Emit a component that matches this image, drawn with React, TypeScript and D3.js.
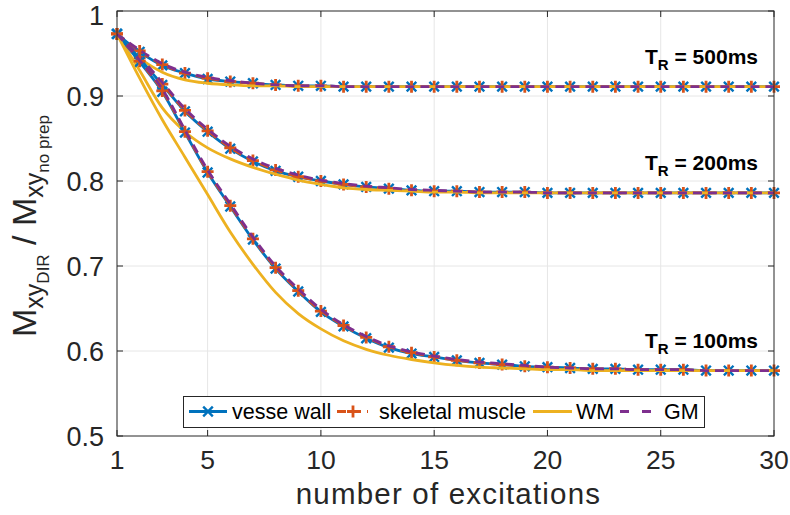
import React from "react";
import * as d3 from "d3";

// number of excitations 1..30
const excitations = d3.range(1, 31);

// ---- TR = 500 ms ----
const vessel500 = [0.973, 0.952, 0.936, 0.927, 0.920, 0.917, 0.915, 0.913, 0.912, 0.912, 0.911, 0.911, 0.911, 0.911, 0.911, 0.911, 0.911, 0.911, 0.911, 0.911, 0.911, 0.911, 0.911, 0.911, 0.911, 0.911, 0.911, 0.911, 0.911, 0.911];
const muscle500 = [0.973, 0.953, 0.937, 0.927, 0.921, 0.917, 0.915, 0.913, 0.912, 0.912, 0.911, 0.911, 0.911, 0.911, 0.911, 0.911, 0.911, 0.911, 0.911, 0.911, 0.911, 0.911, 0.911, 0.911, 0.911, 0.911, 0.911, 0.911, 0.911, 0.911];
const wm500 = [0.973, 0.945, 0.928, 0.919, 0.915, 0.913, 0.912, 0.912, 0.911, 0.911, 0.911, 0.911, 0.911, 0.911, 0.911, 0.911, 0.911, 0.911, 0.911, 0.911, 0.911, 0.911, 0.911, 0.911, 0.911, 0.911, 0.911, 0.911, 0.911, 0.911];
const gm500 = [0.973, 0.954, 0.938, 0.928, 0.922, 0.918, 0.915, 0.913, 0.912, 0.912, 0.911, 0.911, 0.911, 0.911, 0.911, 0.911, 0.911, 0.911, 0.911, 0.911, 0.911, 0.911, 0.911, 0.911, 0.911, 0.911, 0.911, 0.911, 0.911, 0.911];

// ---- TR = 200 ms ----
const vessel200 = [0.973, 0.944, 0.913, 0.882, 0.858, 0.838, 0.823, 0.812, 0.805, 0.800, 0.796, 0.793, 0.791, 0.789, 0.788, 0.788, 0.787, 0.787, 0.787, 0.786, 0.786, 0.786, 0.786, 0.786, 0.786, 0.786, 0.786, 0.786, 0.786, 0.786];
const muscle200 = [0.973, 0.945, 0.914, 0.883, 0.859, 0.839, 0.824, 0.813, 0.805, 0.800, 0.796, 0.793, 0.791, 0.789, 0.788, 0.788, 0.787, 0.787, 0.787, 0.786, 0.786, 0.786, 0.786, 0.786, 0.786, 0.786, 0.786, 0.786, 0.786, 0.786];
const wm200 = [0.973, 0.930, 0.886, 0.858, 0.839, 0.826, 0.816, 0.808, 0.801, 0.796, 0.792, 0.790, 0.789, 0.788, 0.787, 0.787, 0.786, 0.786, 0.786, 0.786, 0.786, 0.786, 0.786, 0.786, 0.786, 0.786, 0.786, 0.786, 0.786, 0.786];
const gm200 = [0.973, 0.946, 0.916, 0.885, 0.861, 0.841, 0.826, 0.815, 0.807, 0.801, 0.797, 0.794, 0.792, 0.790, 0.789, 0.788, 0.787, 0.787, 0.787, 0.786, 0.786, 0.786, 0.786, 0.786, 0.786, 0.786, 0.786, 0.786, 0.786, 0.786];

// ---- TR = 100 ms ----
const vessel100 = [0.973, 0.940, 0.905, 0.857, 0.810, 0.770, 0.731, 0.697, 0.670, 0.646, 0.629, 0.615, 0.604, 0.597, 0.593, 0.589, 0.586, 0.584, 0.582, 0.581, 0.580, 0.579, 0.579, 0.578, 0.578, 0.578, 0.577, 0.577, 0.577, 0.577];
const muscle100 = [0.973, 0.941, 0.906, 0.858, 0.811, 0.771, 0.732, 0.698, 0.671, 0.647, 0.630, 0.616, 0.605, 0.598, 0.593, 0.589, 0.586, 0.584, 0.582, 0.581, 0.580, 0.579, 0.579, 0.578, 0.578, 0.578, 0.577, 0.577, 0.577, 0.577];
const wm100 = [0.973, 0.921, 0.872, 0.828, 0.784, 0.740, 0.702, 0.669, 0.644, 0.626, 0.612, 0.602, 0.595, 0.590, 0.586, 0.583, 0.581, 0.580, 0.579, 0.578, 0.578, 0.577, 0.577, 0.577, 0.577, 0.577, 0.577, 0.577, 0.577, 0.577];
const gm100 = [0.973, 0.942, 0.908, 0.860, 0.813, 0.773, 0.734, 0.700, 0.673, 0.649, 0.631, 0.617, 0.606, 0.599, 0.594, 0.590, 0.587, 0.585, 0.583, 0.581, 0.580, 0.579, 0.579, 0.578, 0.578, 0.578, 0.577, 0.577, 0.577, 0.577];

const xTicks = [1, 5, 10, 15, 20, 25, 30];
const yTicks = [0.5, 0.6, 0.7, 0.8, 0.9, 1];
const trLabels = [
  { tr: "500ms", value: 0.911 },
  { tr: "200ms", value: 0.786 },
  { tr: "100ms", value: 0.577 },
];

const BLUE = "#0072BD";
const ORANGE = "#D95319";
const YELLOW = "#EDB120";
const PURPLE = "#7E2F8E";
const AXIS = "#262626";
const GRID = "#e6e6e6";
const FONT = "'Liberation Sans', Arial, Helvetica, sans-serif";

const W = 790;
const H = 515;
const left = 117;
const right = 774;
const top = 11;
const bottom = 436;

const x = d3.scaleLinear().domain([1, 30]).range([left, right]);
const y = d3.scaleLinear().domain([0.5, 1]).range([bottom, top]);

const line = d3
  .line<number>()
  .x((_, i) => x(excitations[i]))
  .y((d) => y(d))
  .curve(d3.curveMonotoneX);

const XMark = ({ cx, cy, s = 4.8 }: { cx: number; cy: number; s?: number }) => (
  <path
    d={`M${cx - s},${cy - s}L${cx + s},${cy + s}M${cx - s},${cy + s}L${cx + s},${cy - s}`}
    stroke={BLUE}
    strokeWidth={2.4}
    fill="none"
  />
);
const PlusMark = ({ cx, cy, s = 6 }: { cx: number; cy: number; s?: number }) => (
  <path
    d={`M${cx - s},${cy}L${cx + s},${cy}M${cx},${cy - s}L${cx},${cy + s}`}
    stroke={ORANGE}
    strokeWidth={2.8}
    fill="none"
  />
);

const groups = [
  { vessel: vessel500, muscle: muscle500, wm: wm500, gm: gm500 },
  { vessel: vessel200, muscle: muscle200, wm: wm200, gm: gm200 },
  { vessel: vessel100, muscle: muscle100, wm: wm100, gm: gm100 },
];

export default function App() {
  const legendY = 411.5;
  return (
    <svg
      width={W}
      height={H}
      style={{ position: "absolute", left: 0, top: 0, background: "#fff" }}
      fontFamily={FONT}
    >
      <rect x={0} y={0} width={W} height={H} fill="#fff" />
      {/* grid */}
      {xTicks.slice(1, -1).map((t) => (
        <line key={`gx${t}`} x1={x(t)} x2={x(t)} y1={top} y2={bottom} stroke={GRID} strokeWidth={1} />
      ))}
      {yTicks.slice(1, -1).map((t) => (
        <line key={`gy${t}`} x1={left} x2={right} y1={y(t)} y2={y(t)} stroke={GRID} strokeWidth={1} />
      ))}

      {/* series */}
      {groups.map((g, gi) => (
        <g key={gi}>
          <path d={line(g.vessel) || ""} fill="none" stroke={BLUE} strokeWidth={2.8} />
          {g.vessel.map((v, i) => (
            <XMark key={i} cx={x(excitations[i])} cy={y(v)} />
          ))}
          <path d={line(g.muscle) || ""} fill="none" stroke={ORANGE} strokeWidth={2.6} strokeDasharray="9,6" />
          {g.muscle.map((v, i) => (
            <PlusMark key={i} cx={x(excitations[i])} cy={y(v)} />
          ))}
          <path d={line(g.wm) || ""} fill="none" stroke={YELLOW} strokeWidth={2.8} />
          <path d={line(g.gm) || ""} fill="none" stroke={PURPLE} strokeWidth={2.8} strokeDasharray="9,6" />
        </g>
      ))}

      {/* TR annotations */}
      {trLabels.map((d) => (
        <text
          key={d.tr}
          x={758}
          y={y(d.value) - 23}
          textAnchor="end"
          fontSize={21}
          fontWeight="bold"
          fill="#000"
        >
          T<tspan fontSize={15} dy={6}>R</tspan>
          <tspan dy={-6}> = {d.tr}</tspan>
        </text>
      ))}

      {/* axes box */}
      <rect x={left} y={top} width={right - left} height={bottom - top} fill="none" stroke={AXIS} strokeWidth={1} />
      {xTicks.map((t) => (
        <g key={`tx${t}`}>
          <line x1={x(t)} x2={x(t)} y1={bottom} y2={bottom - 6} stroke={AXIS} />
          <line x1={x(t)} x2={x(t)} y1={top} y2={top + 6} stroke={AXIS} />
          <text x={x(t)} y={bottom + 33} textAnchor="middle" fontSize={26.5} fill="#262626">
            {t}
          </text>
        </g>
      ))}
      {yTicks.map((t) => (
        <g key={`ty${t}`}>
          <line x1={left} x2={left + 6} y1={y(t)} y2={y(t)} stroke={AXIS} />
          <line x1={right} x2={right - 6} y1={y(t)} y2={y(t)} stroke={AXIS} />
          <text
            x={left - 13}
            y={Math.max(y(t) + 10, 25)}
            textAnchor="end"
            fontSize={27}
            fill="#262626"
          >
            {t === 1 ? "1" : t.toFixed(1)}
          </text>
        </g>
      ))}

      {/* axis titles */}
      <text
        x={(left + right) / 2 + 3}
        y={504}
        textAnchor="middle"
        fontSize={29.5}
        letterSpacing={1.2}
        fill="#262626"
      >
        number of excitations
      </text>
      <text transform="translate(36,226) rotate(-90)" textAnchor="middle" fontSize={34} fill="#262626">
        M
        <tspan fontSize={25} dy={7}>xy</tspan>
        <tspan fontSize={17} dy={6}>DIR</tspan>
        <tspan dy={-13}> / M</tspan>
        <tspan fontSize={25} dy={7}>xy</tspan>
        <tspan fontSize={17} dy={6}>no prep</tspan>
      </text>

      {/* legend */}
      <rect x={183.5} y={396.5} width={521} height={31} fill="#fff" stroke={AXIS} strokeWidth={1} />
      <line x1={189} x2={227} y1={legendY} y2={legendY} stroke={BLUE} strokeWidth={2.8} />
      <XMark cx={208} cy={legendY} />
      <text x={232} y={legendY + 7.5} fontSize={21.5} fill="#000">vesse wall</text>
      <line x1={337} x2={368} y1={legendY} y2={legendY} stroke={ORANGE} strokeWidth={2.8} strokeDasharray="9,6" />
      <PlusMark cx={353} cy={legendY} />
      <text x={379} y={legendY + 7.5} fontSize={21.5} fill="#000">skeletal muscle</text>
      <line x1={533} x2={572} y1={legendY} y2={legendY} stroke={YELLOW} strokeWidth={2.8} />
      <text x={576} y={legendY + 7.5} fontSize={21.5} fill="#000">WM</text>
      <line x1={620} x2={652} y1={legendY} y2={legendY} stroke={PURPLE} strokeWidth={2.8} strokeDasharray="9,13" />
      <text x={664} y={legendY + 7.5} fontSize={21.5} fill="#000">GM</text>
    </svg>
  );
}
